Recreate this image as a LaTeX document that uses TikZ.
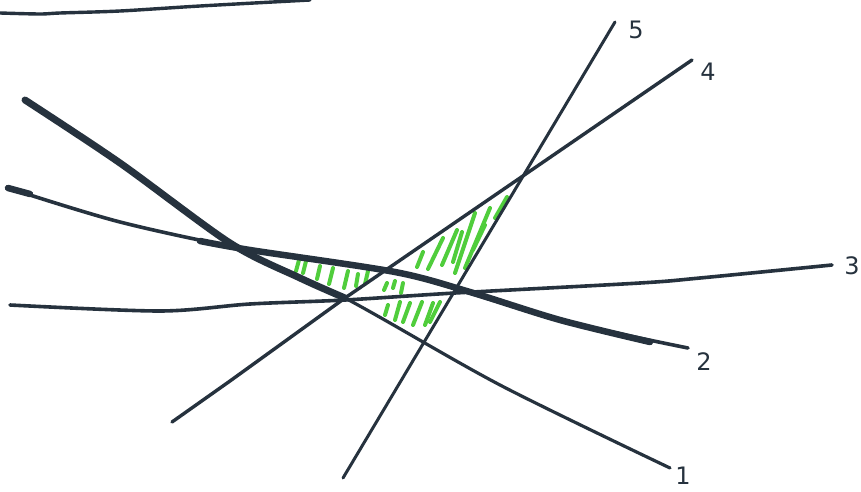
\documentclass[tikz,border=0pt]{standalone}
\usepackage{fontspec}
\setmainfont{DejaVu Sans}
\definecolor{ink}{RGB}{38,50,62}
\definecolor{hatch}{RGB}{80,205,60}
\tikzset{
  pen/.style={draw=ink, line cap=round, line join=round},
  hatchstroke/.style={draw=hatch, line width=4pt, line cap=round},
  lbl/.style={text=ink, font=\fontsize{24}{24}\selectfont, inner sep=0pt}
}
\begin{document}
\begin{tikzpicture}[x=1pt,y=-1pt]
\useasboundingbox (0,0) rectangle (861,492);
\fill[white] (0,0) rectangle (861,492);
% labels
\node[lbl] (l1) at (683,476) {1};
\node[lbl] (l2) at (704,362) {2};
\node[lbl] (l3) at (852,266) {3};
\node[lbl] (l4) at (708,72) {4};
\node[lbl] (l5) at (636,30) {5};
% line end coordinates
\coordinate (e1) at (670,468);
\coordinate (e2) at (688,348);
\coordinate (e3) at (832,265);
\coordinate (e4) at (692,60);
\coordinate (e5) at (615,22);
% hatching, left triangle
\foreach \a/\b in {{(299,260)}/{(296,271)}, {(306,261)}/{(303,273)}, {(320,266)}/{(317,279)}, {(333,268)}/{(329,284)}, {(348,271)}/{(344,288)}, {(358,274)}/{(356,286)}, {(368,271)}/{(365,284)}}
  \draw[hatchstroke] \a -- \b;
% hatching, upper triangle
\foreach \a/\b in {{(423,252)}/{(417,267)}, {(443,238)}/{(428,269)}, {(457,230)}/{(442,265)}, {(462,232)}/{(453,262)}, {(475,213)}/{(455,273)}, {(490,208)}/{(465,268)}, {(485,225)}/{(473,250)}, {(507,197)}/{(495,218)}}
  \draw[hatchstroke] \a -- \b;
% hatching, middle and lower part
\foreach \a/\b in {{(387,283)}/{(384,290)}, {(395,281)}/{(393,288)}, {(403,283)}/{(401,293)}, {(388,305)}/{(385,315)}, {(400,302)}/{(395,320)}, {(410,303)}/{(403,322)}, {(422,302)}/{(413,325)}, {(433,303)}/{(425,325)}, {(440,302)}/{(430,322)}}
  \draw[hatchstroke] \a -- \b;
% top line
\draw[pen, line width=3.4pt] plot[smooth] coordinates {(0,13) (40,14) (60,13) (120,11) (200,6) (310,0)};
% line 5
\draw[pen, line width=3pt] (343,478) -- (e5);
% line 4
\draw[pen, line width=3.4pt] (172,422) -- (230,381) -- (345,298) -- (e4);
% line 3
\draw[pen, line width=3.6pt] plot[smooth] coordinates {(10,305) (160,311) (250,304) (345,300) (455,293) (640,283) (700,278) (e3)};
% line 2
\draw[pen, line width=3.6pt] plot[smooth] coordinates {(8,188) (120,222) (250,250) (395,272) (560,320) (e2)};
\draw[pen, line width=6.5pt] plot[smooth] coordinates {(200,241) (250,250) (395,272) (470,292) (560,320) (650,342)};
\draw[pen, line width=6.5pt] (8,188) -- (30,194);
% line 1
\draw[pen, line width=3.2pt] plot[smooth] coordinates {(25,100) (120,163) (230,243) (345,298) (500,385) (e1)};
\draw[pen, line width=7pt] plot[smooth] coordinates {(25,100) (120,163) (230,243) (300,278) (345,298)};
\end{tikzpicture}
\end{document}
